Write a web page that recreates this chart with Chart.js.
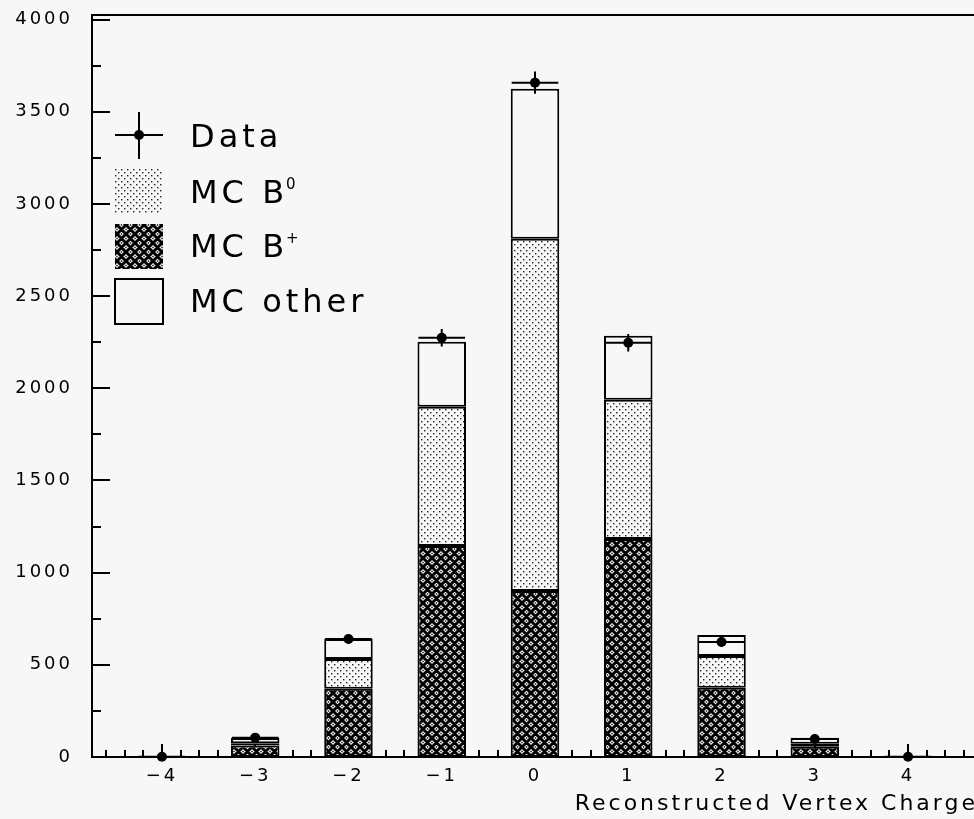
<!DOCTYPE html>
<html><head><meta charset="utf-8">
<script src="https://cdn.jsdelivr.net/npm/chart.js@4/dist/chart.umd.min.js"></script>
<style>
html,body{margin:0;padding:0;background:#f7f7f7;overflow:hidden;}
#wrap{width:974px;height:819px;overflow:hidden;position:relative;}
canvas{display:block;background:#f7f7f7;}
</style></head><body>
<div id="wrap"><canvas id="c" width="990" height="819"></canvas></div>
<script>
// ---- data ----
const charges   = [-4, -3, -2, -1, 0, 1, 2, 3, 4];
const mcBplus   = [2, 62, 370, 1145, 900, 1183, 375, 55, 2];
const mcB0      = [1, 13, 162, 755, 1911, 755, 173, 17, 1];
const mcOther   = [1, 28, 108, 352, 814, 347, 114, 33, 1];
const dataCounts= [1, 105, 640, 2274, 3658, 2247, 624, 98, 1];
const xTicks    = [-4, -3, -2, -1, 0, 1, 2, 3, 4];
const yTicks    = [0, 500, 1000, 1500, 2000, 2500, 3000, 3500, 4000];
const legendLabels = ['Data', 'MC B', 'MC B', 'MC other'];
const legendSups   = ['', '0', '+', ''];
const xTitle = 'Reconstructed Vertex Charge';

const BG = '#f7f7f7';
const FONT = "'DejaVu Sans'";

function makeHatch(){
  const s = 9, c = document.createElement('canvas');
  c.width = s; c.height = s;
  const g = c.getContext('2d');
  g.fillStyle = BG; g.fillRect(0,0,s,s);
  g.strokeStyle = '#000'; g.lineWidth = 3;
  g.beginPath();
  for (const k of [-s,0,s]) {
    g.moveTo(-3, -3+k); g.lineTo(s+3, s+3+k);
    g.moveTo(-3, s+3+k); g.lineTo(s+3, -3+k);
  }
  g.stroke();
  g.fillStyle = '#000';
  const h = s/2;
  for (const [px,py] of [[h,0],[h,s],[0,h],[s,h]]) g.fillRect(px-0.7, py-0.7, 1.4, 1.4);
  return g.createPattern(c,'repeat');
}
function makeStipple(){
  const s = 6, c = document.createElement('canvas');
  c.width = s; c.height = s;
  const g = c.getContext('2d');
  g.fillStyle = BG; g.fillRect(0,0,s,s);
  g.fillStyle = '#222';
  g.fillRect(1,1,1.4,1.4);
  g.fillRect(4,4,1.4,1.4);
  return g.createPattern(c,'repeat');
}
const patHatch = makeHatch();
const patStipple = makeStipple();

const ticksPlugin = {
  id:'ticksFrame',
  beforeDraw(chart){ chart.ctx.letterSpacing = '3px'; },
  beforeDatasetsDraw(chart){
    const {ctx, chartArea:a, scales:{x,y}} = chart;
    ctx.save();
    ctx.strokeStyle = '#000'; ctx.lineWidth = 2;
    ctx.beginPath();
    for (let v = 0; v <= 4000; v += 250) {
      const py = Math.round(y.getPixelForValue(v));
      const len = (v % 500 === 0) ? 18 : 9;
      ctx.moveTo(a.left, py); ctx.lineTo(a.left + len, py);
    }
    for (let k = -23; k <= 23; k++) {
      const v = k * 0.2;
      const px = Math.round(x.getPixelForValue(v));
      const len = (k % 5 === 0) ? 13 : 7;
      ctx.moveTo(px, a.bottom); ctx.lineTo(px, a.bottom - len);
    }
    ctx.stroke();
    ctx.restore();
  },
  afterDatasetsDraw(chart){
    const {ctx, chartArea:a, scales:{x,y}} = chart;
    ctx.save();
    // frame
    ctx.strokeStyle = '#000'; ctx.lineWidth = 2;
    ctx.beginPath();
    ctx.moveTo(a.right, a.top); ctx.lineTo(a.left, a.top); ctx.lineTo(a.left, a.bottom); ctx.lineTo(a.right, a.bottom);
    ctx.stroke();
    // data points with error bars
    ctx.lineWidth = 2;
    ctx.fillStyle = '#000';
    charges.forEach((c,i)=>{
      const n = dataCounts[i], e = Math.sqrt(n);
      const px = x.getPixelForValue(c), py = y.getPixelForValue(n);
      ctx.beginPath();
      ctx.moveTo(x.getPixelForValue(c-0.25), py); ctx.lineTo(x.getPixelForValue(c+0.25), py);
      ctx.moveTo(px, y.getPixelForValue(n+e)); ctx.lineTo(px, y.getPixelForValue(n-e));
      ctx.stroke();
      ctx.beginPath(); ctx.arc(px, py, 5, 0, Math.PI*2); ctx.fill();
    });
    ctx.restore();
  },
  afterDraw(chart){
    const ctx = chart.ctx;
    ctx.save();
    ctx.fillStyle = '#000'; ctx.strokeStyle = '#000';
    const bx = 115, bw = 48, bh = 45;
    const tx = 190;
    // Data symbol
    ctx.lineWidth = 2;
    ctx.beginPath();
    ctx.moveTo(115,135); ctx.lineTo(163,135);
    ctx.moveTo(139,112); ctx.lineTo(139,159);
    ctx.stroke();
    ctx.beginPath(); ctx.arc(139,135,5,0,Math.PI*2); ctx.fill();
    // boxes
    ctx.fillStyle = patStipple; ctx.fillRect(bx,168,bw,bh);
    ctx.fillStyle = patHatch; ctx.fillRect(bx,224,bw,bh);
    ctx.lineWidth = 2; ctx.strokeRect(bx,279,bw,bh);
    // texts
    const baselines = [147, 203, 257, 312];
    const supBase = [0, 189, 243, 0];
    ctx.fillStyle = '#000';
    ctx.textBaseline = 'alphabetic'; ctx.textAlign = 'left';
    legendLabels.forEach((t,i)=>{
      ctx.font = '32px ' + FONT;
      ctx.letterSpacing = '4px';
      ctx.fillText(t, tx, baselines[i]);
      if (legendSups[i]) {
        const w = ctx.measureText(t).width;
        ctx.font = '15px ' + FONT;
        ctx.letterSpacing = '0px';
        ctx.fillText(legendSups[i], tx + w - 2, supBase[i]);
      }
    });
    ctx.restore();
  }
};

const common = {borderColor:'#000', borderWidth:2, borderSkipped:false, barPercentage:0.52, categoryPercentage:1, stack:'mc'};
new Chart(document.getElementById('c'), {
  type:'bar',
  data:{ datasets:[
    Object.assign({label:'MC B+', data: charges.map((c,i)=>({x:c, y:mcBplus[i]})), backgroundColor: patHatch}, common),
    Object.assign({label:'MC B0', data: charges.map((c,i)=>({x:c, y:mcB0[i]})), backgroundColor: patStipple}, common),
    Object.assign({label:'MC other', data: charges.map((c,i)=>({x:c, y:mcOther[i]})), backgroundColor: BG}, common)
  ]},
  options:{
    responsive:false, animation:false, devicePixelRatio:1,
    layout:{padding:{top:15, right:12, left:0, bottom:0}},
    plugins:{legend:{display:false}, tooltip:{enabled:false}},
    scales:{
      x:{
        type:'linear', min:-4.75, max:4.75, stacked:true, offset:false,
        grid:{display:false, drawTicks:false}, border:{display:false},
        afterBuildTicks: s => { s.ticks = xTicks.map(v=>({value:v})); },
        afterFit: s => { s.height = 62; s.paddingLeft = 0; s.paddingRight = 0; },
        ticks:{ autoSkip:false, maxRotation:0, padding:9, color:'#000',
          font:{family:'DejaVu Sans', size:18},
          callback: v => (v < 0 ? '\u2212' + Math.abs(v) : String(v)) },
        title:{ display:true, text:xTitle, align:'end', color:'#000',
          font:{family:'DejaVu Sans', size:22}, padding:{top:0, bottom:2} }
      },
      y:{
        min:0, max:4025, stacked:true,
        grid:{display:false, drawTicks:false}, border:{display:false},
        afterBuildTicks: s => { s.ticks = yTicks.map(v=>({value:v})); },
        afterFit: s => { s.width = 92; s.paddingTop = 0; s.paddingBottom = 0; },
        ticks:{ padding:19, color:'#000', font:{family:'DejaVu Sans', size:18},
          callback: v => String(v) }
      }
    }
  },
  plugins:[ticksPlugin]
});
</script>
</body></html>
